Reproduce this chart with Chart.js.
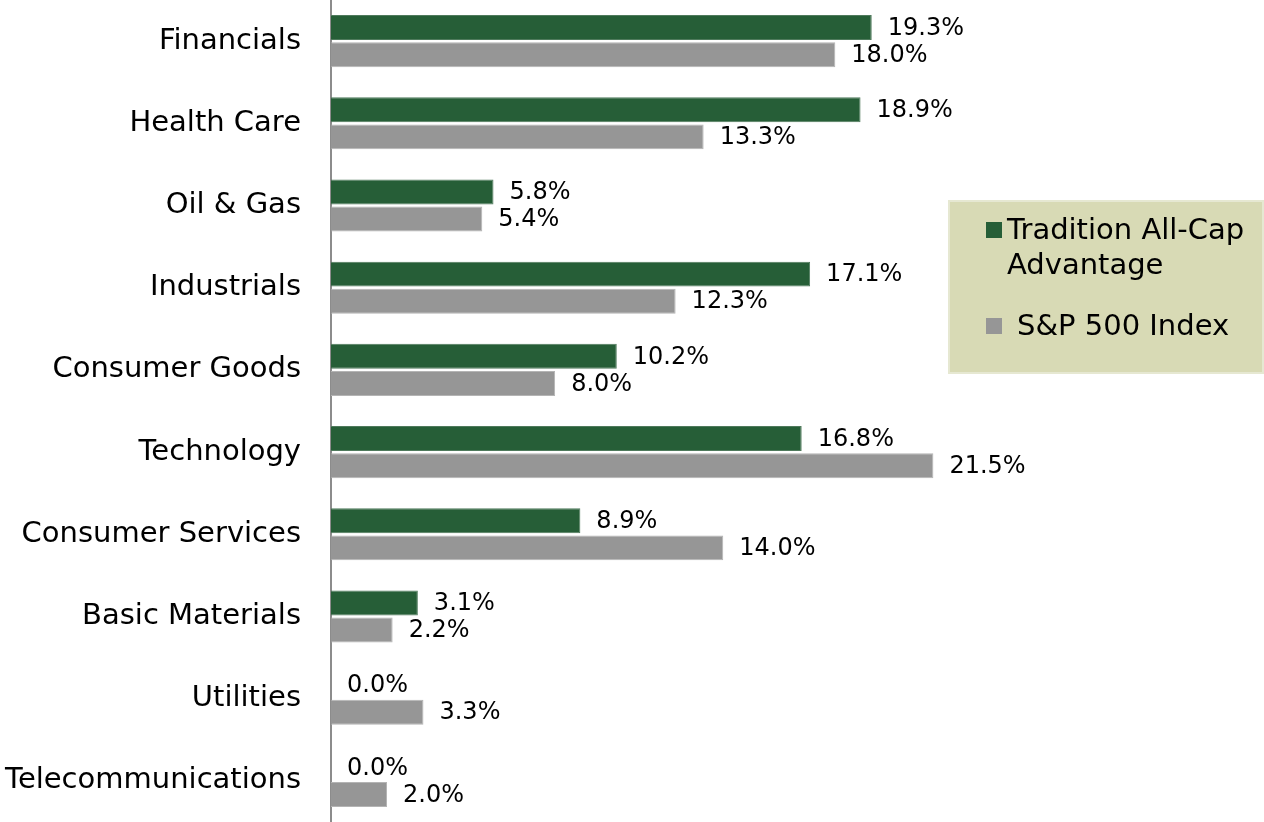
<!DOCTYPE html>
<html>
<head>
<meta charset="utf-8">
<script src="https://cdn.jsdelivr.net/npm/chart.js@4/dist/chart.umd.min.js"></script>
<style>
  html, body { margin: 0; padding: 0; background: #fff; }
  #wrap { width: 1264px; height: 822px; position: relative; }
</style>
</head>
<body>
<div id="wrap"><canvas id="sectorChart"></canvas></div>
<script>
const sectors = ['Financials', 'Health Care', 'Oil & Gas', 'Industrials', 'Consumer Goods',
    'Technology', 'Consumer Services', 'Basic Materials', 'Utilities', 'Telecommunications'];
const traditionValues = [19.3, 18.9, 5.8, 17.1, 10.2, 16.8, 8.9, 3.1, 0.0, 0.0];
const spValues = [18.0, 13.3, 5.4, 12.3, 8.0, 21.5, 14.0, 2.2, 3.3, 2.0];
const seriesNames = ['Tradition All-Cap Advantage', 'S&P 500 Index'];

const fontFamily = '"DejaVu Sans", Verdana, sans-serif';

// value labels at the end of each bar
const barLabels = {
    id: 'barLabels',
    afterDatasetsDraw(chart) {
        const ctx = chart.ctx;
        ctx.save();
        ctx.font = '24px ' + fontFamily;
        ctx.fillStyle = '#000';
        ctx.textAlign = 'left';
        ctx.textBaseline = 'middle';
        chart.data.datasets.forEach((ds, i) => {
            chart.getDatasetMeta(i).data.forEach((bar, j) => {
                ctx.fillText(ds.data[j].toFixed(1) + '%', bar.x + 16, bar.y + 1);
            });
        });
        ctx.restore();
    }
};

// boxed legend on the right side
const boxLegend = {
    id: 'boxLegend',
    afterDraw(chart) {
        const ctx = chart.ctx;
        const bx = 948, by = 200, bw = 316, bh = 174;
        ctx.save();
        ctx.fillStyle = '#d8dab5';
        ctx.fillRect(bx, by, bw, bh);
        ctx.strokeStyle = '#e6e8d2';
        ctx.lineWidth = 2;
        ctx.strokeRect(bx + 1, by + 1, bw - 2, bh - 2);

        ctx.font = '29px ' + fontFamily;
        ctx.fillStyle = '#000';
        ctx.textBaseline = 'middle';
        const rows = [{ y: 231, x: 1007 }, { y: 327, x: 1017 }];
        chart.data.datasets.forEach((ds, i) => {
            const r = rows[i];
            ctx.fillStyle = ds.backgroundColor;
            ctx.fillRect(986, r.y - 9, 16, 16);
            ctx.fillStyle = '#000';
            // simple word wrap
            const words = ds.label.split(' ');
            let line = '', ly = r.y;
            words.forEach(w => {
                const test = line ? line + ' ' + w : w;
                if (ctx.measureText(test).width > 250 && line) {
                    ctx.fillText(line, r.x, ly);
                    line = w;
                    ly += 35;
                } else {
                    line = test;
                }
            });
            ctx.fillText(line, r.x, ly);
        });
        ctx.restore();
    }
};

new Chart(document.getElementById('sectorChart'), {
    type: 'bar',
    data: {
        labels: sectors,
        datasets: [
            {
                label: seriesNames[0],
                data: traditionValues,
                backgroundColor: '#265e37',
                borderColor: '#4f7a5c',
                borderWidth: 1,
                categoryPercentage: 0.66,
                barPercentage: 0.92
            },
            {
                label: seriesNames[1],
                data: spValues,
                backgroundColor: '#969696',
                borderColor: '#b4b4b4',
                borderWidth: 1,
                categoryPercentage: 0.66,
                barPercentage: 0.92
            }
        ]
    },
    options: {
        indexAxis: 'y',
        responsive: true,
        maintainAspectRatio: false,
        animation: false,
        layout: { padding: 0 },
        scales: {
            x: {
                min: 0,
                max: 33.3,
                display: false
            },
            y: {
                grid: { display: false, drawTicks: false },
                border: { display: true, color: '#8c8c8c', width: 2 },
                ticks: {
                    color: '#000',
                    padding: 30,
                    font: { family: fontFamily, size: 29 }
                },
                afterFit(scale) {
                    scale.width = 331;
                    scale.paddingTop = 0;
                    scale.paddingBottom = 0;
                }
            }
        },
        plugins: {
            legend: { display: false },
            tooltip: { enabled: false }
        }
    },
    plugins: [barLabels, boxLegend]
});
</script>
</body>
</html>
